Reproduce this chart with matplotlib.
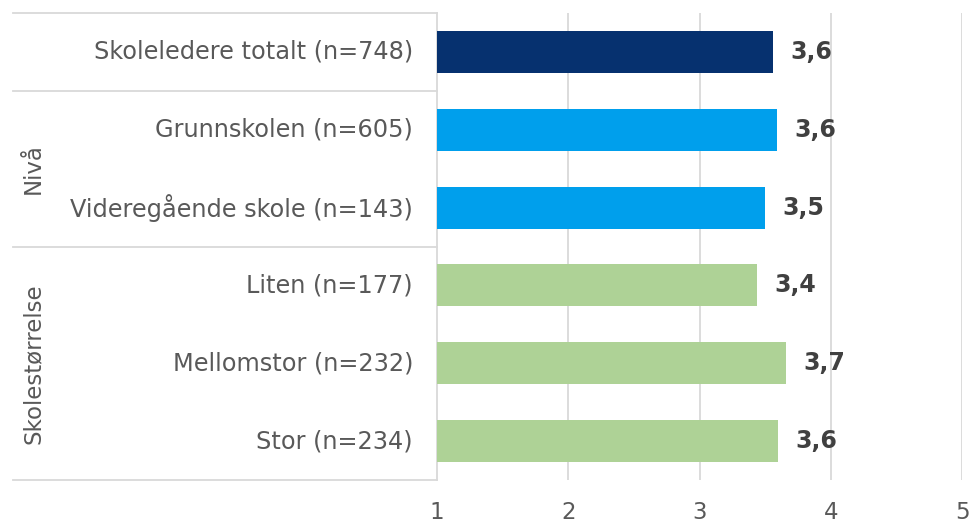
import matplotlib
matplotlib.use("Agg")
import matplotlib.pyplot as plt
import numpy as np

# data
categories = ["Skoleledere totalt (n=748)", "Grunnskolen (n=605)",
              "Videregående skole (n=143)", "Liten (n=177)",
              "Mellomstor (n=232)", "Stor (n=234)"]
values = [3.56, 3.59, 3.50, 3.44, 3.66, 3.60]
labels = ["3,6", "3,6", "3,5", "3,4", "3,7", "3,6"]
groups = ["Nivå", "Skolestørrelse"]
group_rows = [(1, 2), (3, 5)]

colors = ["#06316F", "#009FEC", "#009FEC", "#AED296", "#AED296", "#AED296"]
TXT = "#595959"
LINE = "#D9D9D9"

fig = plt.figure(figsize=(9.71, 5.22), dpi=100)
ax = fig.add_axes([437 / 971, 1 - 480 / 522, (962 - 437) / 971, (480 - 13) / 522])

y = np.arange(len(categories))
ax.barh(y, np.array(values) - 1, left=1, height=0.54, color=colors, zorder=3)
ax.set_xlim(1, 5)
ax.set_ylim(len(categories) - 0.5, -0.5)

for yi, v, lab in zip(y, values, labels):
    ax.text(v + 0.13, yi, lab, ha="left", va="center", fontsize=17,
            fontweight="bold", color="#404040", zorder=4)

# grid
for gx in [2, 3, 4, 5]:
    ax.axvline(gx, color=LINE, lw=1.3, zorder=1)
for s in ax.spines.values():
    s.set_visible(False)
ax.set_xticks([1, 2, 3, 4, 5])
ax.set_xticklabels(["1", "2", "3", "4", "5"])
ax.tick_params(axis="x", length=0, pad=15, labelsize=16.5, colors=TXT)
ax.set_yticks([])

# label table
tr = ax.get_yaxis_transform()
x_left = (13 - 437) / (962 - 437)
ax.plot([0, 0], [-0.5, len(categories) - 0.5], transform=tr, color=LINE,
        lw=1.3, clip_on=False, zorder=2)
for sep in [-0.5, 0.5, 2.5, len(categories) - 0.5]:
    ax.plot([x_left, 0], [sep, sep], transform=tr, color=LINE, lw=1.3,
            clip_on=False)

x_cat = (413 - 437) / (962 - 437)
for yi, cat in zip(y, categories):
    ax.text(x_cat, yi, cat, transform=tr, ha="right", va="center",
            fontsize=17.3, color=TXT)

x_grp = (33 - 437) / (962 - 437)
for g, (a, b) in zip(groups, group_rows):
    ax.text(x_grp, (a + b) / 2, g, transform=tr, ha="center", va="center",
            rotation=90, fontsize=16.5, color=TXT)

fig.savefig("out.png", dpi=100, facecolor="white")
